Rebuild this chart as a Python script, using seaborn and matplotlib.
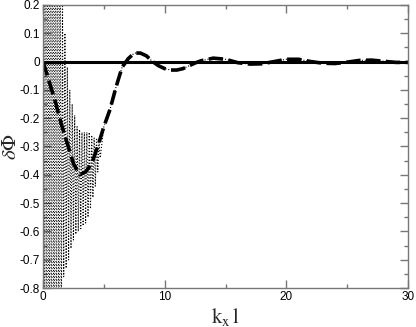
import numpy as np
import seaborn as sns
import matplotlib.pyplot as plt
from matplotlib.ticker import MultipleLocator

# smooth (dashed) curve
kx = [0, 0.5, 1, 1.5, 2, 2.5, 3, 3.5, 4, 4.5, 5, 5.5, 6, 6.5, 7, 7.5, 8, 8.5,
      9, 9.5, 10, 10.5, 11, 11.5, 12, 12.5, 13, 14, 15, 16, 17, 18, 19, 20,
      21, 22, 23, 24, 25, 26, 27, 28, 29, 30]
dphi = [0, -0.07, -0.14, -0.22, -0.29, -0.36, -0.40, -0.39, -0.36, -0.30,
        -0.23, -0.17, -0.09, -0.02, 0.01, 0.03, 0.03, 0.02, 0.0, -0.015,
        -0.025, -0.03, -0.03, -0.025, -0.015, -0.005, 0.003, 0.012, 0.008,
        -0.004, -0.009, -0.008, 0.0, 0.008, 0.008, 0.0, -0.006, -0.007,
        -0.002, 0.004, 0.005, 0.001, -0.003, -0.003]

# flat reference line
flat_x = [0, 30]
flat_y = [0, 0]

# noisy (dotted) curve: peaks and troughs of the fast oscillation
peak_x = [0.0, 0.2, 0.4, 0.6, 0.8, 1.0, 1.2, 1.4, 1.6, 1.8, 2.0, 2.2, 2.4,
          2.6, 2.8, 3.0, 3.2, 3.4, 3.6, 3.8, 4.0, 4.2, 4.4, 4.6]
peak_y = [3.0, 2.8, 2.5, 2.2, 1.9, 1.5, 1.1, 0.6, 0.2, 0.1, -0.02, -0.1,
          -0.15, -0.19, -0.23, -0.24, -0.25, -0.25, -0.25, -0.25, -0.26,
          -0.27, -0.27, -0.28]
trough_x = [0.1, 0.3, 0.5, 0.7, 0.9, 1.1, 1.3, 1.5, 1.7, 1.9, 2.1, 2.3, 2.5,
            2.7, 2.9, 3.1, 3.3, 3.5, 3.7, 3.9, 4.1, 4.3, 4.5, 4.7]
trough_y = [-3.0, -2.8, -2.5, -2.2, -1.9, -1.6, -1.3, -1.0, -0.76, -0.73,
            -0.70, -0.66, -0.63, -0.61, -0.60, -0.59, -0.58, -0.57, -0.55,
            -0.52, -0.48, -0.44, -0.39, -0.34]

zig_x = [v for pair in zip(peak_x, trough_x) for v in pair]
zig_y = [v for pair in zip(peak_y, trough_y) for v in pair]
tail = [(x, y) for x, y in zip(kx, dphi) if x >= 5]
noisy_x = zig_x + [t[0] for t in tail]
noisy_y = zig_y + [t[1] for t in tail]

sns.set_style("ticks")
plt.rcParams['font.family'] = ['Liberation Sans', 'DejaVu Sans']
plt.rcParams['mathtext.fontset'] = 'stix'

fig = plt.figure(figsize=(4.16, 3.27), dpi=100)
ax = fig.add_axes([0.1034, 0.119, 0.8776, 0.866])

sns.lineplot(x=noisy_x, y=noisy_y, ax=ax, color='black', lw=0.8,
             linestyle=':', sort=False)
sns.lineplot(x=flat_x, y=flat_y, ax=ax, color='black', lw=2.2)
sns.lineplot(x=kx, y=dphi, ax=ax, color='black', lw=2.6,
             dashes=False, linestyle=(0, (4, 1.5)))

ax.set_xlim(0, 30)
ax.set_ylim(-0.8, 0.2)
ax.xaxis.set_major_locator(MultipleLocator(10))
ax.xaxis.set_minor_locator(MultipleLocator(5))
ax.yaxis.set_major_locator(MultipleLocator(0.1))
ax.yaxis.set_minor_locator(MultipleLocator(0.05))
ax.set_yticklabels([('0' if abs(v) < 1e-9 else f'{v:.1f}') for v in ax.get_yticks()])
ax.tick_params(which='both', direction='in', top=True, right=True,
               labelsize=8.5, colors='#777777', labelcolor='black', pad=2)
ax.tick_params(which='major', length=6, width=1)
ax.tick_params(which='minor', length=3, width=1)
for s in ax.spines.values():
    s.set_color('#777777')
    s.set_linewidth(1)

ax.set_xlabel(r'$\mathrm{k_x\,l}$', fontsize=15, labelpad=2)
ax.set_ylabel(r'$\delta\Phi$', fontsize=15, labelpad=0)

fig.savefig('out.png', dpi=100)
